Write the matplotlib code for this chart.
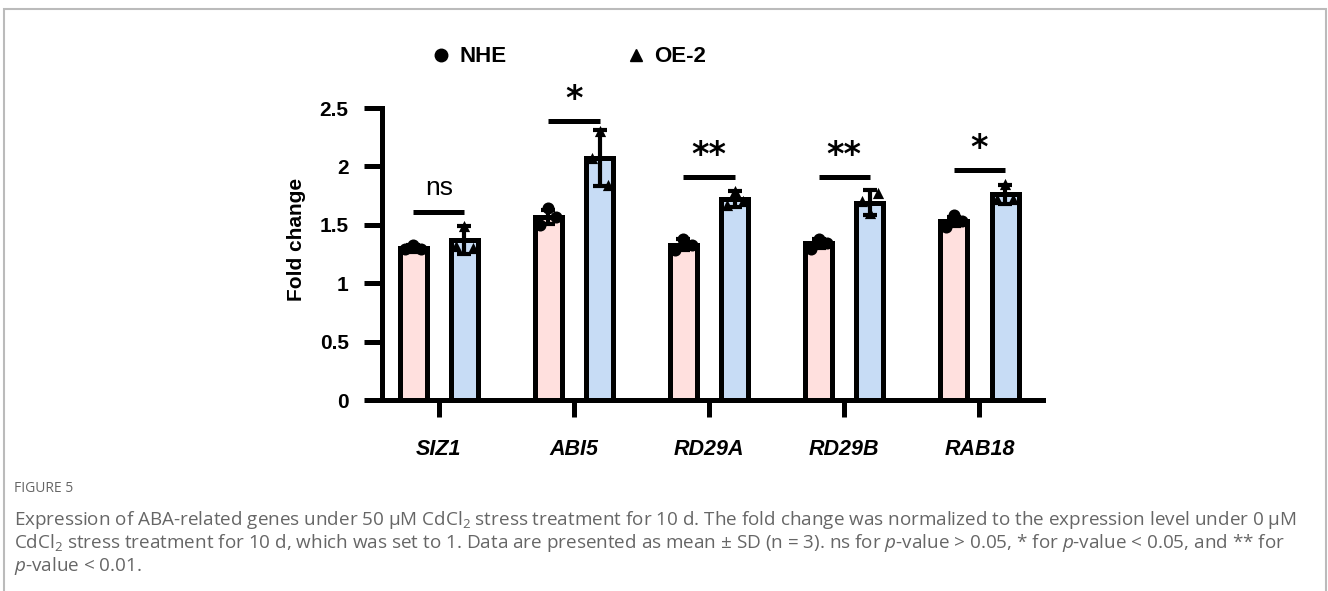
import matplotlib
matplotlib.use("Agg")
import matplotlib.pyplot as plt
from matplotlib.lines import Line2D
from matplotlib.patches import Rectangle
import numpy as np

# data
genes = ["SIZ1", "ABI5", "RD29A", "RD29B", "RAB18"]
nhe_mean = [1.30, 1.57, 1.33, 1.34, 1.53]
nhe_sd = [0.03, 0.06, 0.05, 0.04, 0.04]
oe_mean = [1.37, 2.07, 1.72, 1.69, 1.76]
oe_sd = [0.12, 0.24, 0.07, 0.11, 0.08]
nhe_points = [[1.29, 1.33, 1.29], [1.50, 1.64, 1.57], [1.28, 1.38, 1.33],
              [1.29, 1.38, 1.34], [1.48, 1.58, 1.53]]
oe_points = [[1.32, 1.49, 1.30], [2.07, 2.30, 1.84], [1.67, 1.79, 1.70],
             [1.70, 1.60, 1.77], [1.72, 1.85, 1.72]]
sig_labels = ["ns", "*", "**", "**", "*"]
sig_y = [1.61, 2.39, 1.91, 1.91, 1.97]

caption_title = "FIGURE 5"
caption_lines = [
    r"Expression of ABA-related genes under 50 μM CdCl$_2$ stress treatment for 10 d. The fold change was normalized to the expression level under 0 μM",
    r"CdCl$_2$ stress treatment for 10 d, which was set to 1. Data are presented as mean ± SD (n = 3). ns for $p$-value > 0.05, * for $p$-value < 0.05, and ** for",
    r"$p$-value < 0.01.",
]

PINK = "#FFE0DE"
BLUE = "#C7DCF5"
LW = 3.6

plt.rcParams["font.family"] = ["Liberation Sans", "DejaVu Sans"]
plt.rcParams["mathtext.fontset"] = "custom"
plt.rcParams["mathtext.rm"] = "Open Sans"
plt.rcParams["mathtext.it"] = "Open Sans:italic"

fig = plt.figure(figsize=(13.28, 5.91), dpi=100)
ax = fig.add_axes([382 / 1328, 1 - 400 / 591, 661 / 1328, 292 / 591])

x = np.arange(len(genes))
off = 0.19
width = 0.2

ax.bar(x - off, nhe_mean, width, color=PINK, edgecolor="black", linewidth=LW, zorder=2)
ax.bar(x + off, oe_mean, width, color=BLUE, edgecolor="black", linewidth=LW, zorder=2)
ax.errorbar(x - off, nhe_mean, yerr=nhe_sd, fmt="none", ecolor="black",
            elinewidth=3, capsize=5, capthick=3, zorder=3)
ax.errorbar(x + off, oe_mean, yerr=oe_sd, fmt="none", ecolor="black",
            elinewidth=3, capsize=5, capthick=3, zorder=3)

jit = [-0.06, 0.0, 0.06]
for i in range(len(genes)):
    ax.scatter([x[i] - off + j for j in jit], nhe_points[i], marker="o", s=75,
               color="black", zorder=4, linewidths=0)
    ax.scatter([x[i] + off + j for j in jit], oe_points[i], marker="^", s=65,
               color="black", zorder=4, linewidths=0)

# significance bars
for i, (lab, yy) in enumerate(zip(sig_labels, sig_y)):
    ax.plot([x[i] - off, x[i] + off], [yy, yy], color="black", lw=LW,
            solid_capstyle="butt", zorder=3, clip_on=False)
    if lab == "ns":
        ax.text(x[i], yy + 0.1, lab, ha="center", va="bottom", fontsize=19)
    else:
        ax.text(x[i], yy + 0.04, lab, ha="center", va="bottom", fontsize=24,
                family="DejaVu Sans", fontweight="bold")

ax.set_xlim(-0.42, 4.47)
ax.set_ylim(0, 2.5)
ax.set_yticks([0, 0.5, 1, 1.5, 2, 2.5])
ax.set_yticklabels(["0", "0.5", "1", "1.5", "2", "2.5"], fontsize=15, fontweight="bold")
ax.set_xticks(x)
ax.set_xticklabels(genes, fontsize=15.5, fontweight="bold", style="italic")
ax.tick_params(axis="y", length=13, width=LW, pad=11)
ax.tick_params(axis="x", length=12, width=LW, pad=16)
for s in ["top", "right"]:
    ax.spines[s].set_visible(False)
for s in ["left", "bottom"]:
    ax.spines[s].set_linewidth(LW)
ax.set_ylabel("Fold change", fontsize=15, fontweight="bold")
ax.yaxis.set_label_coords(-0.115, 0.55)

handles = [Line2D([], [], marker="o", color="black", ls="none", markersize=9),
           Line2D([], [], marker="^", color="black", ls="none", markersize=8)]
fig.legend(handles, ["NHE", "OE-2"], loc="center", bbox_to_anchor=(568 / 1328, 1 - 57 / 591),
           ncol=2, frameon=False, columnspacing=5.3, handlelength=1.0, handletextpad=0.35,
           prop={"weight": "bold", "size": 16})

# caption
fig.text(14 / 1328, 1 - 488 / 591, caption_title, fontsize=10, color="#666666",
         family="Open Sans", va="center")
for k, line in enumerate(caption_lines):
    fig.text(14 / 1328, 1 - (520 + 23 * k) / 591, line, fontsize=13.6, color="#666666",
             family="Open Sans", va="center")

fig.patches.append(Rectangle((4 / 1328, -0.2), 1322 / 1328, 1.2 - 9 / 591,
                             transform=fig.transFigure, fill=False,
                             edgecolor="#bbbbbb", linewidth=1.5))

fig.savefig("out.png", dpi=100)
